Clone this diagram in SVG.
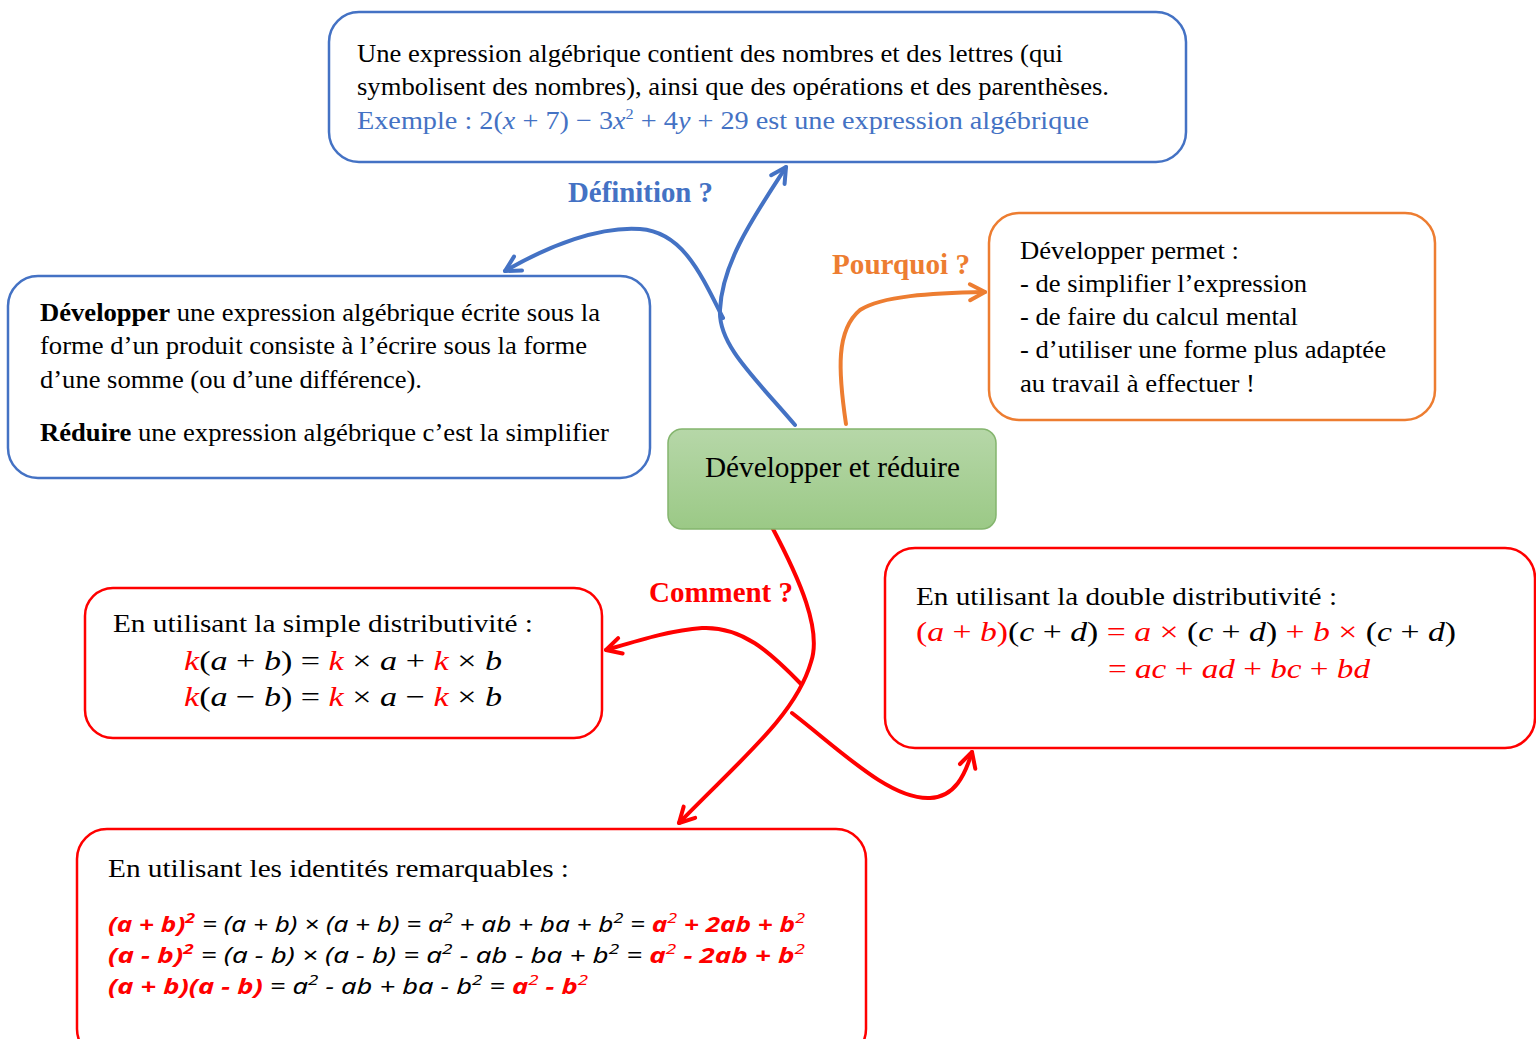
<svg xmlns="http://www.w3.org/2000/svg" width="1536" height="1039" viewBox="0 0 1536 1039">
<defs>
<linearGradient id="g" x1="0" y1="0" x2="0" y2="1">
<stop offset="0" stop-color="#B6D7A8"/>
<stop offset="1" stop-color="#9BC986"/>
</linearGradient>
<marker id="ab" viewBox="-20 -12 24 24" refX="0" refY="0" markerWidth="24" markerHeight="24" markerUnits="userSpaceOnUse" orient="auto"><path d="M-15,-8 L0,0 L-15,8" fill="none" stroke="#4472C4" stroke-width="4" stroke-linecap="round" stroke-linejoin="round"/></marker>
<marker id="ao" viewBox="-20 -12 24 24" refX="0" refY="0" markerWidth="24" markerHeight="24" markerUnits="userSpaceOnUse" orient="auto"><path d="M-15,-8 L0,0 L-15,8" fill="none" stroke="#ED7D31" stroke-width="4" stroke-linecap="round" stroke-linejoin="round"/></marker>
<marker id="ar" viewBox="-20 -12 24 24" refX="0" refY="0" markerWidth="24" markerHeight="24" markerUnits="userSpaceOnUse" orient="auto"><path d="M-15,-8 L0,0 L-15,8" fill="none" stroke="#FF0000" stroke-width="4" stroke-linecap="round" stroke-linejoin="round"/></marker>
</defs>
<style>
.box{fill:#fff;stroke-width:2.5}
.b{stroke:#4472C4}.o{stroke:#ED7D31}.r{stroke:#FF0000}
text{font-family:"Liberation Serif","Times New Roman",serif;fill:#000}
.t{font-size:26px}
.big{font-size:29px}
.m{font-size:28px}
.f{font-family:"Noto Sans","Open Sans",sans-serif;font-size:22px;font-style:italic}
.lbl{font-size:29px;font-weight:bold}
.c{fill:none;stroke-width:4;stroke-linecap:round}
.red{fill:#FF0000}.blue{fill:#4472C4}
.i{font-style:italic}
.bd{font-weight:bold}
.sup{font-size:15px}
</style>

<g id="connectors">
<path class="c" stroke="#4472C4" d="M795,425 C755,378 718,345 720,310 C722,262 755,215 786,167" marker-end="url(#ab)"/>
<path class="c" stroke="#4472C4" d="M723,318 C700,272 682,232 640,229 C600,226 550,245 505,271" marker-end="url(#ab)"/>
<path class="c" stroke="#ED7D31" d="M846,424 C838,370 836,330 860,310 C882,296 930,293 985,292" marker-end="url(#ao)"/>
<path class="c" stroke="#FF0000" d="M772,527 C800,580 822,630 811,662 C796,715 740,760 679,823" marker-end="url(#ar)"/>
<path class="c" stroke="#FF0000" d="M801,684 C770,652 742,626 702,628 C672,630 640,640 606,650" marker-end="url(#ar)"/>
<path class="c" stroke="#FF0000" d="M792,713 C840,750 890,800 930,798 C955,797 965,775 972,752" marker-end="url(#ar)"/>
<text class="lbl" x="568" y="202" style="fill:#4472C4" textLength="145" lengthAdjust="spacingAndGlyphs">Définition ?</text>
<text class="lbl" x="832" y="274" style="fill:#ED7D31" textLength="138" lengthAdjust="spacingAndGlyphs">Pourquoi ?</text>
<text class="lbl" x="649" y="602" style="fill:#FF0000" textLength="144" lengthAdjust="spacingAndGlyphs">Comment ?</text>
</g>

<g id="node-definition">
<rect class="box b" x="329" y="12" width="857" height="150" rx="30"/>
<text class="t" x="357" y="62" textLength="706" lengthAdjust="spacingAndGlyphs">Une expression algébrique contient des nombres et des lettres (qui</text>
<text class="t" x="357" y="95" textLength="752" lengthAdjust="spacingAndGlyphs">symbolisent des nombres), ainsi que des opérations et des parenthèses.</text>
<text class="t blue" x="357" y="129" textLength="732" lengthAdjust="spacingAndGlyphs">Exemple : 2(<tspan class="i">x</tspan> + 7) − 3<tspan class="i">x</tspan><tspan class="sup" dy="-10">2</tspan><tspan dy="10"> + 4</tspan><tspan class="i">y</tspan> + 29 est une expression algébrique</text>
</g>

<g id="node-developper">
<rect class="box b" x="8" y="276" width="642" height="202" rx="30"/>
<text class="t" x="40" y="321" textLength="560" lengthAdjust="spacingAndGlyphs"><tspan class="bd">Développer</tspan> une expression algébrique écrite sous la</text>
<text class="t" x="40" y="354" textLength="547" lengthAdjust="spacingAndGlyphs">forme d’un produit consiste à l’écrire sous la forme</text>
<text class="t" x="40" y="388" textLength="382" lengthAdjust="spacingAndGlyphs">d’une somme (ou d’une différence).</text>
<text class="t" x="40" y="441" textLength="569" lengthAdjust="spacingAndGlyphs"><tspan class="bd">Réduire</tspan> une expression algébrique c’est la simplifier</text>
</g>

<g id="node-pourquoi">
<rect class="box o" x="989" y="213" width="446" height="207" rx="30"/>
<text class="t" x="1020" y="259" textLength="219" lengthAdjust="spacingAndGlyphs">Développer permet :</text>
<text class="t" x="1020" y="292" textLength="287" lengthAdjust="spacingAndGlyphs">- de simplifier l’expression</text>
<text class="t" x="1020" y="325" textLength="278" lengthAdjust="spacingAndGlyphs">- de faire du calcul mental</text>
<text class="t" x="1020" y="358" textLength="366" lengthAdjust="spacingAndGlyphs">- d’utiliser une forme plus adaptée</text>
<text class="t" x="1020" y="392" textLength="235" lengthAdjust="spacingAndGlyphs">au travail à effectuer !</text>
</g>

<g id="node-center">
<rect x="668" y="429" width="328" height="100" rx="14" fill="url(#g)" stroke="#84B56E" stroke-width="1.5"/>
<text class="big" x="705" y="477" textLength="255" lengthAdjust="spacingAndGlyphs">Développer et réduire</text>
</g>

<g id="node-simple">
<rect class="box r" x="85" y="588" width="517" height="150" rx="28"/>
<text class="t" x="113" y="632" textLength="420" lengthAdjust="spacingAndGlyphs">En utilisant la simple distributivité :</text>
<text class="m" x="184" y="670" textLength="318" lengthAdjust="spacingAndGlyphs"><tspan class="i red">k</tspan>(<tspan class="i">a</tspan> + <tspan class="i">b</tspan>) = <tspan class="i red">k</tspan> × <tspan class="i">a</tspan> + <tspan class="i red">k</tspan> × <tspan class="i">b</tspan></text>
<text class="m" x="184" y="706" textLength="318" lengthAdjust="spacingAndGlyphs"><tspan class="i red">k</tspan>(<tspan class="i">a</tspan> − <tspan class="i">b</tspan>) = <tspan class="i red">k</tspan> × <tspan class="i">a</tspan> − <tspan class="i red">k</tspan> × <tspan class="i">b</tspan></text>
</g>

<g id="node-double">
<rect class="box r" x="885" y="548" width="650" height="200" rx="30"/>
<text class="t" x="916" y="605" textLength="421" lengthAdjust="spacingAndGlyphs">En utilisant la double distributivité :</text>
<text class="m" x="916" y="641" textLength="540" lengthAdjust="spacingAndGlyphs"><tspan class="red">(<tspan class="i">a</tspan> + <tspan class="i">b</tspan>)</tspan>(<tspan class="i">c</tspan> + <tspan class="i">d</tspan>) <tspan class="red">= <tspan class="i">a</tspan> × </tspan>(<tspan class="i">c</tspan> + <tspan class="i">d</tspan>) <tspan class="red">+ <tspan class="i">b</tspan> × </tspan>(<tspan class="i">c</tspan> + <tspan class="i">d</tspan>)</text>
<text class="m red" x="1108" y="678" textLength="262" lengthAdjust="spacingAndGlyphs">= <tspan class="i">ac</tspan> + <tspan class="i">ad</tspan> + <tspan class="i">bc</tspan> + <tspan class="i">bd</tspan></text>
</g>

<g id="node-identites">
<rect class="box r" x="77" y="829" width="789" height="230" rx="30"/>
<text class="t" x="108" y="877" textLength="461" lengthAdjust="spacingAndGlyphs">En utilisant les identités remarquables :</text>
<text class="f" x="108" y="932" textLength="697" lengthAdjust="spacingAndGlyphs"><tspan class="red bd">(a + b)</tspan><tspan class="red bd sup" dy="-9">2</tspan><tspan dy="9"> = (a + b) × (a + b) = a</tspan><tspan class="sup" dy="-9">2</tspan><tspan dy="9"> + ab + ba + b</tspan><tspan class="sup" dy="-9">2</tspan><tspan dy="9"> = </tspan><tspan class="red bd">a</tspan><tspan class="red sup" dy="-9">2</tspan><tspan class="red bd" dy="9"> + 2ab + b</tspan><tspan class="red sup" dy="-9">2</tspan></text>
<text class="f" x="108" y="963" textLength="697" lengthAdjust="spacingAndGlyphs"><tspan class="red bd">(a − b)</tspan><tspan class="red bd sup" dy="-9">2</tspan><tspan dy="9"> = (a − b) × (a − b) = a</tspan><tspan class="sup" dy="-9">2</tspan><tspan dy="9"> − ab − ba + b</tspan><tspan class="sup" dy="-9">2</tspan><tspan dy="9"> = </tspan><tspan class="red bd">a</tspan><tspan class="red sup" dy="-9">2</tspan><tspan class="red bd" dy="9"> − 2ab + b</tspan><tspan class="red sup" dy="-9">2</tspan></text>
<text class="f" x="108" y="994" textLength="480" lengthAdjust="spacingAndGlyphs"><tspan class="red bd">(a + b)(a − b)</tspan><tspan> = a</tspan><tspan class="sup" dy="-9">2</tspan><tspan dy="9"> − ab + ba − b</tspan><tspan class="sup" dy="-9">2</tspan><tspan dy="9"> = </tspan><tspan class="red bd">a</tspan><tspan class="red sup" dy="-9">2</tspan><tspan class="red bd" dy="9"> − b</tspan><tspan class="red sup" dy="-9">2</tspan></text>
</g>
</svg>
